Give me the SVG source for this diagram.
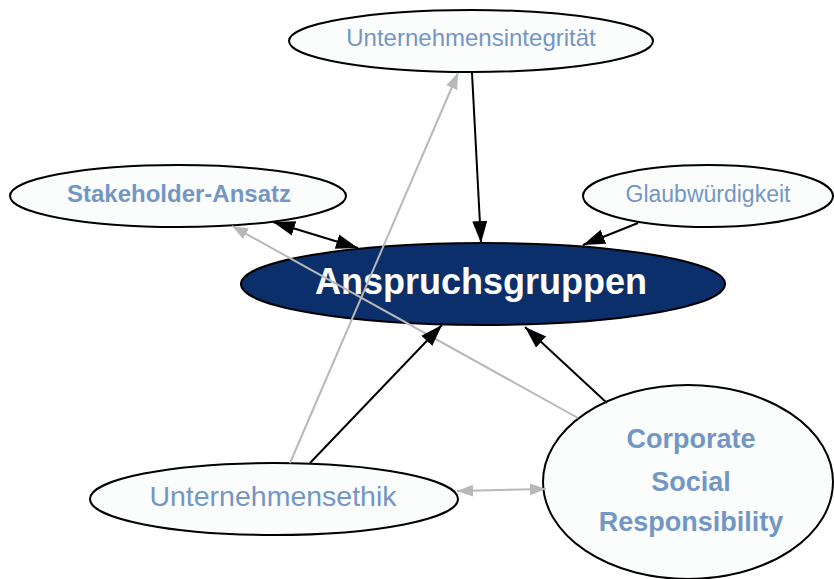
<svg xmlns="http://www.w3.org/2000/svg" width="834" height="579" viewBox="0 0 834 579">
<style>
.n{fill:#fbfdfc;stroke:#000;stroke-width:2}
.main{fill:#0b2f6b;stroke:#000;stroke-width:2}
.t{font-family:"Liberation Sans",Arial,sans-serif;fill:#7396c4;text-anchor:middle}
.b{font-weight:bold}
.mt{font-family:"Liberation Sans",Arial,sans-serif;fill:#fff;font-weight:bold;text-anchor:middle}
.k{stroke:#000;stroke-width:2;fill:none}
.g{stroke:#b8b8b8;stroke-width:2;fill:none}
</style>
<defs>
<marker id="ak" markerUnits="userSpaceOnUse" markerWidth="24" markerHeight="18" refX="22" refY="9" orient="auto-start-reverse"><path d="M0,1.5 L22,9 L0,16.5 z" fill="#000"/></marker>
<marker id="ag" markerUnits="userSpaceOnUse" markerWidth="18" markerHeight="14" refX="16" refY="7" orient="auto-start-reverse"><path d="M0,1 L16,7 L0,13 z" fill="#b8b8b8"/></marker>
</defs>
<rect width="834" height="579" fill="#fff"/>
<g id="node-integritaet"><ellipse class="n" cx="471" cy="41" rx="182" ry="31"/><text class="t" x="471" y="46" font-size="24">Unternehmensintegrität</text></g>
<g id="node-stakeholder"><ellipse class="n" cx="178" cy="196" rx="168" ry="31"/><text class="t b" x="179" y="202" font-size="24">Stakeholder-Ansatz</text></g>
<g id="node-glaubwuerdigkeit"><ellipse class="n" cx="708" cy="196" rx="125" ry="31"/><text class="t" x="708" y="202" font-size="23">Glaubwürdigkeit</text></g>
<g id="node-anspruchsgruppen"><ellipse class="main" cx="483" cy="284" rx="242" ry="41"/><text class="mt" x="481" y="294" font-size="36">Anspruchsgruppen</text></g>
<g id="node-ethik"><ellipse class="n" cx="274" cy="499" rx="184" ry="36"/><text class="t" x="273" y="506" font-size="28.5">Unternehmensethik</text></g>
<g id="node-csr"><ellipse class="n" cx="688" cy="482" rx="145" ry="97"/><text class="t b" x="691" y="448" font-size="27">Corporate</text><text class="t b" x="691" y="491" font-size="27">Social</text><text class="t b" x="691" y="531" font-size="27">Responsibility</text></g>
<g id="connectors">
<path class="k" d="M472,73 L481,243" marker-end="url(#ak)"/>
<path class="k" d="M638,223 L583,245" marker-end="url(#ak)"/>
<path class="k" d="M273,222 L358,248" marker-start="url(#ak)" marker-end="url(#ak)"/>
<path class="g" d="M578,418 L232,226" marker-end="url(#ag)"/>
<path class="g" d="M290,463 L458,73" marker-end="url(#ag)"/>
<path class="k" d="M310,463 L442,325" marker-end="url(#ak)"/>
<path class="k" d="M607,403 L525,327" marker-end="url(#ak)"/>
<path class="g" d="M457,491 L546,489" marker-start="url(#ag)" marker-end="url(#ag)"/>
</g>
</svg>
